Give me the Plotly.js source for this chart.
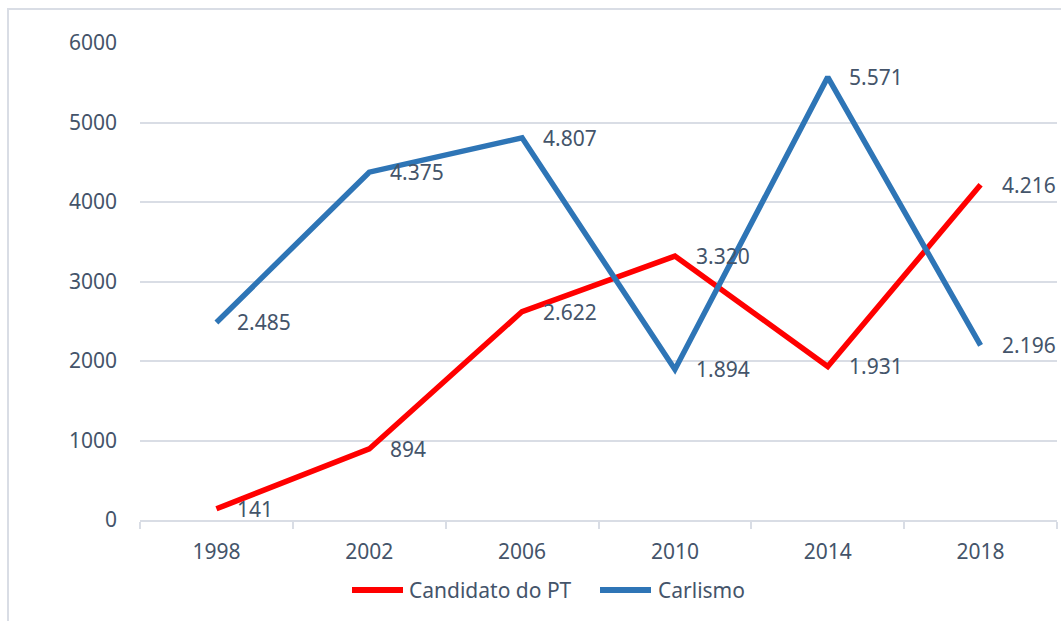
<!DOCTYPE html>
<html>
<head>
<meta charset="utf-8">
<script src="https://cdn.plot.ly/plotly-3.0.1.min.js"></script>
<style>
html,body{margin:0;padding:0;background:#fff;}
#chart{width:1061px;height:621px;}
</style>
</head>
<body>
<div id="chart"></div>
<script>
const years = ["1998", "2002", "2006", "2010", "2014", "2018"];
const ptValues = [141, 894, 2622, 3320, 1931, 4216];
const carlismoValues = [2485, 4375, 4807, 1894, 5571, 2196];
const seriesNames = ["Candidato do PT", "Carlismo"];
const seriesColors = ["#ff0000", "#2e75b6"];
const yTicks = [0, 1000, 2000, 3000, 4000, 5000, 6000];

const textColor = "#44546a";
const fontFam = "Noto Sans, Open Sans, sans-serif";
const fontSize = 21;

function fmt(v) {
  const s = String(v);
  return s.length > 3 ? s.slice(0, s.length - 3) + "." + s.slice(s.length - 3) : s;
}

const allSeries = [ptValues, carlismoValues];

const traces = allSeries.map((vals, k) => ({
  x: years, y: vals, name: seriesNames[k], type: "scatter", mode: "lines",
  line: {color: seriesColors[k], width: 5.5}, showlegend: false
}));

// data labels (placed right of each point, from the arrays)
const annotations = [];
allSeries.forEach(vals => {
  vals.forEach((v, i) => {
    annotations.push({
      x: i, y: v, xref: "x", yref: "y", text: fmt(v), showarrow: false,
      xanchor: "left", yanchor: "middle", xshift: 19, yshift: 0,
      font: {family: fontFam, size: fontSize, color: textColor}
    });
  });
});

// custom legend (long line symbols like the original)
const px = v => (v - 140) / 917;
const legY = (520 - 590) / 477;
const legLines = [[352, 403], [600, 651]];
const legTextX = [407, 656];
const shapes = [{type: "rect", xref: "paper", yref: "paper",
  x0: px(8), x1: px(1066), y0: (520 - 630) / 477, y1: (520 - 9) / 477,
  line: {color: "#d9dde5", width: 2}, fillcolor: "rgba(0,0,0,0)", layer: "below"}];
seriesNames.forEach((nm, k) => {
  shapes.push({type: "line", xref: "paper", yref: "paper",
    x0: px(legLines[k][0]), x1: px(legLines[k][1]), y0: legY, y1: legY,
    line: {color: seriesColors[k], width: 6}});
  annotations.push({xref: "paper", yref: "paper", x: px(legTextX[k]), y: legY,
    xanchor: "left", yanchor: "middle", text: nm, showarrow: false, yshift: 0,
    font: {family: fontFam, size: fontSize, color: textColor}});
});

const layout = {
  width: 1061, height: 621,
  margin: {l: 140, r: 4, t: 43, b: 101},
  paper_bgcolor: "#ffffff", plot_bgcolor: "#ffffff",
  font: {family: fontFam, size: fontSize, color: textColor},
  showlegend: false,
  xaxis: {type: "category", range: [-0.5, 5.5], showgrid: false, zeroline: false,
          showline: true, linecolor: "#d9dde5", linewidth: 2,
          ticks: "outside", tickson: "boundaries", ticklen: 7, tickcolor: "#d9dde5", tickwidth: 2,
          ticklabelstandoff: 12, fixedrange: true},
  yaxis: {range: [0, 6000], tickvals: yTicks, ticktext: yTicks.map(String),
          showgrid: true, gridcolor: "#d9dde5", gridwidth: 2, zeroline: false,
          showline: false, ticks: "", ticklabelstandoff: 22, fixedrange: true},
  annotations: annotations,
  shapes: shapes
};

Plotly.newPlot("chart", traces, layout, {displayModeBar: false, staticPlot: true});
</script>
</body>
</html>
